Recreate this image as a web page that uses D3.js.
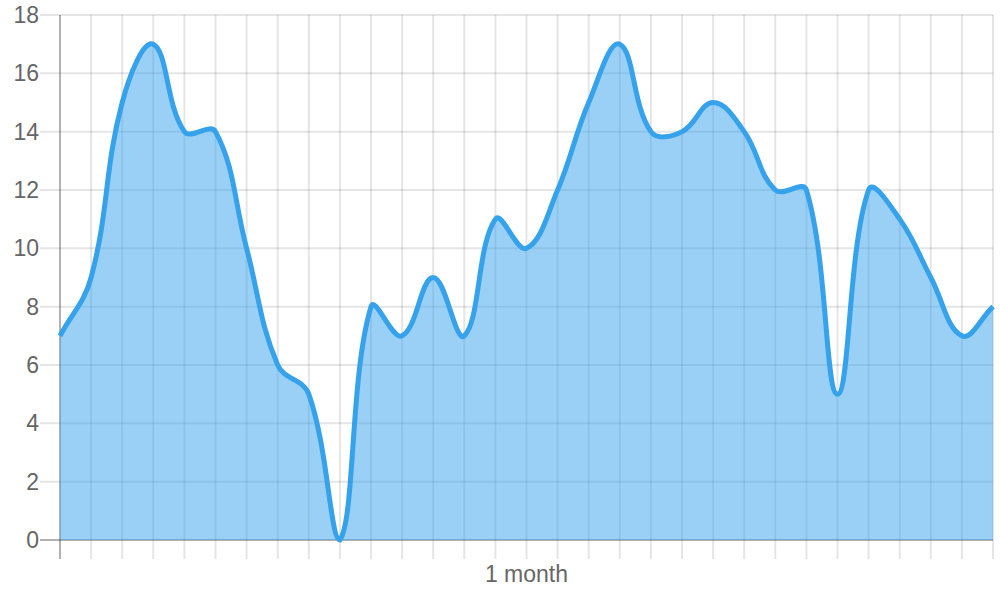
<!DOCTYPE html>
<html>
<head>
<meta charset="utf-8">
<script src="https://cdn.jsdelivr.net/npm/d3@7"></script>
<style>
  html, body { margin: 0; padding: 0; background: #fff; }
  svg { display: block; font-family: "Liberation Sans", Arial, sans-serif; }
</style>
</head>
<body>
<svg id="chart" width="1000" height="600"></svg>
<script>
// one value per day
const days = [0, 1, 2, 3, 4, 5, 6, 7, 8, 9, 10, 11, 12, 13, 14, 15,
              16, 17, 18, 19, 20, 21, 22, 23, 24, 25, 26, 27, 28, 29, 30]
const values = [7, 9, 15, 17, 14, 14, 10, 6, 5, 0, 8, 7, 9, 7, 11, 10,
                12, 15, 17, 14, 14, 15, 14, 12, 12, 5, 12, 11, 9, 7, 8]
const yTicks = [0, 2, 4, 6, 8, 10, 12, 14, 16, 18]
const xTitle = '1 month'

const area = { left: 60, right: 993, top: 15, bottom: 540 }

const x = d3.scaleLinear().domain([0, 30]).range([area.left, area.right])
const y = d3.scaleLinear().domain([0, 18]).range([area.bottom, area.top])

const svg = d3.select('#chart')

// grid lines (drawn first, fill sits on top of them)
const grid = svg.append('g').attr('stroke-width', 2)
grid.selectAll('line.h').data(yTicks).join('line')
    .attr('class', 'h')
    .attr('x1', area.left - 20).attr('x2', area.right)
    .attr('y1', d => y(d)).attr('y2', d => y(d))
    .attr('stroke', d => d === 0 ? 'rgba(0,0,0,0.3)' : 'rgba(0,0,0,0.1)')
grid.selectAll('line.v').data(days).join('line')
    .attr('class', 'v')
    .attr('x1', d => x(d)).attr('x2', d => x(d))
    .attr('y1', area.top).attr('y2', area.bottom + 19)
    .attr('stroke', d => d === 0 ? 'rgba(0,0,0,0.3)' : 'rgba(0,0,0,0.1)')

// y labels
svg.append('g')
    .style('font-size', '23px')
    .attr('fill', '#666')
  .selectAll('text').data(yTicks).join('text')
    .attr('x', area.left - 21)
    .attr('y', d => y(d))
    .attr('dy', '0.35em')
    .attr('text-anchor', 'end')
    .text(d => d)

svg.append('text')
    .attr('x', x(15))
    .attr('y', 582)
    .attr('text-anchor', 'middle')
    .attr('fill', '#666')
    .style('font-size', '23px')
    .text(xTitle)

// spline like chart.js v2 (tension 0.4, control points capped to the chart area)
function splinePath(pts, t, closeToBottom) {
  const cps = pts.map((cur, i) => {
    const prev = pts[Math.max(0, i - 1)]
    const next = pts[Math.min(pts.length - 1, i + 1)]
    const d01 = Math.hypot(cur[0] - prev[0], cur[1] - prev[1])
    const d12 = Math.hypot(next[0] - cur[0], next[1] - cur[1])
    let s01 = d01 / (d01 + d12), s12 = d12 / (d01 + d12)
    if (isNaN(s01)) s01 = 0
    if (isNaN(s12)) s12 = 0
    const fa = t * s01, fb = t * s12
    const cap = p => [Math.max(area.left, Math.min(area.right, p[0])),
                      Math.max(area.top, Math.min(area.bottom, p[1]))]
    return {
      prev: cap([cur[0] - fa * (next[0] - prev[0]), cur[1] - fa * (next[1] - prev[1])]),
      next: cap([cur[0] + fb * (next[0] - prev[0]), cur[1] + fb * (next[1] - prev[1])])
    }
  })
  const p = d3.path()
  p.moveTo(pts[0][0], pts[0][1])
  for (let i = 1; i < pts.length; i++) {
    p.bezierCurveTo(cps[i - 1].next[0], cps[i - 1].next[1],
                    cps[i].prev[0], cps[i].prev[1], pts[i][0], pts[i][1])
  }
  if (closeToBottom) {
    p.lineTo(pts[pts.length - 1][0], y(0))
    p.lineTo(pts[0][0], y(0))
    p.closePath()
  }
  return p.toString()
}

const pts = days.map((d, i) => [x(d), y(values[i])])

svg.append('path')
    .attr('d', splinePath(pts, 0.4, true))
    .attr('fill', 'rgba(54,162,235,0.5)')

svg.append('path')
    .attr('d', splinePath(pts, 0.4, false))
    .attr('fill', 'none')
    .attr('stroke', 'rgb(54,162,235)')
    .attr('stroke-width', 5)
    .attr('stroke-linejoin', 'miter')
</script>
</body>
</html>
